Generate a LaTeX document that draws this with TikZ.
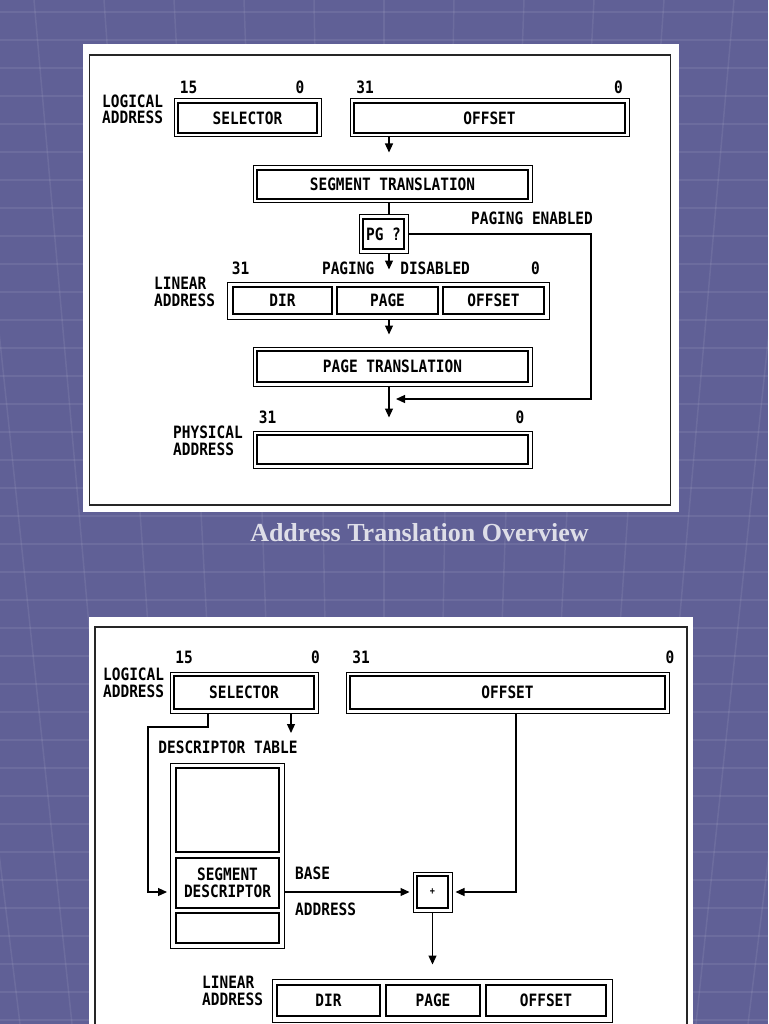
\documentclass[tikz,border=0pt]{standalone}
\usepackage{fontspec}
\usetikzlibrary{arrows.meta}

\newfontfamily\regfont{DejaVu Sans Mono}[FakeStretch=0.85]
\newfontfamily\titlefont{Liberation Serif}
\newcommand{\regtype}{\regfont\bfseries\fontsize{17}{16.5}\selectfont}
\definecolor{slide}{RGB}{96,96,150}
\definecolor{caption}{RGB}{222,222,232}

\begin{document}
\begin{tikzpicture}[x=1pt, y=-1pt,
	frame/.style={draw, line width=1pt, inner sep=0pt},
	reg/.style={frame, font=\regtype},
	cell/.style={draw, line width=2pt, inner sep=0pt, font=\regtype},
	lbl/.style={inner sep=0pt, font=\regtype},
	wire/.style={line width=1.2pt},
	ptr/.style={wire, -{Triangle[length=9pt, width=8pt]}},
	tile/.style={line width=1.5pt, white, opacity=0.08}]
	% Slide and panels
	\useasboundingbox (0,0) rectangle (768,1024);
	\fill[slide] (0,0) rectangle (768,1024);
	\foreach \y in {12,40,...,1024}
		\draw[tile] (0,\y) -- (768,\y);
	\foreach \k in {-7,...,7}
		\draw[tile] (384+\k*70,0) -- (384+\k*52,1024);
	\fill[white] (83,44) rectangle (679,512);
	\draw[line width=1.5pt, black!85] (89.5,55) rectangle (670.5,505);
	\fill[white] (89,617) rectangle (693,1030);
	\draw[line width=1.5pt, black!85] (95,1030) |- (687,627) -- (687,1030);
	\node[font=\titlefont\bfseries\fontsize{26}{30}\selectfont, text=caption] (title) at (419.5,533) {Address Translation Overview};

	% Top diagram: registers
	\node[reg, minimum width=147, minimum height=38] (sela) at (247.5,118) {SELECTOR};
	\node[reg, minimum width=279, minimum height=38] (offa) at (489.5,118) {OFFSET};
	\node[reg, minimum width=279, minimum height=37] (sega) at (392.5,184.5) {SEGMENT TRANSLATION};
	\node[reg, minimum width=49, minimum height=38] (pga) at (383.5,234) {PG ?};
	\node[frame, minimum width=322, minimum height=37] (lina) at (388,300.5) {};
	\node[cell, minimum width=99, minimum height=27] (dira) at (282.5,300.5) {DIR};
	\node[cell, minimum width=101, minimum height=27] (pagea) at (387.5,300.5) {PAGE};
	\node[cell, minimum width=101, minimum height=27] (offsa) at (493.5,300.5) {OFFSET};
	\node[reg, minimum width=279, minimum height=39] (pta) at (392.5,366.5) {PAGE TRANSLATION};
	\node[reg, minimum width=279, minimum height=37] (pha) at (392.5,449.5) {};

	% Top diagram: labels
	\node[lbl] (hi1) at (188.5,87) {15};
	\node[lbl] (lo1) at (300,87) {0};
	\node[lbl] (hi2) at (365,87) {31};
	\node[lbl] (lo2) at (618.5,87) {0};
	\node[lbl, align=left, anchor=west] (logla) at (102,109.5) {LOGICAL\\ADDRESS};
	\node[lbl] (pgon) at (532,218) {PAGING ENABLED};
	\node[lbl] (hi3) at (240.5,268) {31};
	\node[lbl] (pgoff) at (396,268) {PAGING~~~DISABLED};
	\node[lbl] (lo3) at (535.5,268) {0};
	\node[lbl, align=left, anchor=west] (linla) at (154,292) {LINEAR\\ADDRESS};
	\node[lbl] (hi4) at (267.5,417) {31};
	\node[lbl] (lo4) at (520,417) {0};
	\node[lbl, align=left, anchor=west] (phyla) at (173,441) {PHYSICAL\\ADDRESS};

	% Top diagram: flow
	\coordinate (axis) at (389,0);
	\coordinate (bypass) at (591,399);
	\coordinate (merge) at (389,399);
	\draw[ptr, shorten >=13pt] (offa.south -| axis) -- (sega.north -| axis);
	\draw[wire] (sega.south -| axis) -- (pga.north -| axis);
	\draw[ptr, shorten >=12pt] (pga.south -| axis) -- (lina.north -| axis);
	\draw[ptr, shorten >=12pt] (lina.south -| axis) -- (pta.north -| axis);
	\draw[ptr, shorten >=13pt] (pta.south -| axis) -- (pha.north -| axis);
	\draw[ptr, shorten >=7pt] (pga.east) -| (bypass) -- (merge);

	% Bottom diagram: registers and table
	\node[reg, minimum width=148, minimum height=41] (selb) at (244,692.5) {SELECTOR};
	\node[reg, minimum width=323, minimum height=41] (offb) at (507.5,692.5) {OFFSET};
	\node[frame, minimum width=114, minimum height=185] (dtab) at (227,855.5) {};
	\node[cell, minimum width=103, minimum height=84] (dtop) at (227.5,810) {};
	\node[cell, minimum width=103, minimum height=50, align=center] (sdesc) at (227.5,883) {SEGMENT\\DESCRIPTOR};
	\node[cell, minimum width=103, minimum height=30] (dbot) at (227.5,928) {};
	\node[reg, minimum width=39, minimum height=40, font=\regfont\bfseries\fontsize{10}{10}\selectfont] (plus) at (432.5,892) {+};
	\node[frame, minimum width=340, minimum height=43] (linb) at (442,1000.5) {};
	\node[cell, minimum width=103, minimum height=31] (dirb) at (328.5,1000.5) {DIR};
	\node[cell, minimum width=94, minimum height=31] (pageb) at (433,1000.5) {PAGE};
	\node[cell, minimum width=120, minimum height=31] (offsb) at (546,1000.5) {OFFSET};

	% Bottom diagram: labels
	\node[lbl] (hi5) at (184,657.5) {15};
	\node[lbl] (lo5) at (315.5,657.5) {0};
	\node[lbl] (hi6) at (361,657.5) {31};
	\node[lbl] (lo6) at (670,657.5) {0};
	\node[lbl, align=left, anchor=west] (loglb) at (103,683) {LOGICAL\\ADDRESS};
	\node[lbl] (dtl) at (228,747) {DESCRIPTOR TABLE};
	\node[lbl, anchor=west] (basel) at (295,873) {BASE};
	\node[lbl, anchor=west] (addrl) at (295,909.5) {ADDRESS};
	\node[lbl, align=left, anchor=west] (linlb) at (202,991) {LINEAR\\ADDRESS};

	% Bottom diagram: flow
	\coordinate (selbend) at (148,727);
	\coordinate (dtarrow) at (291,733);
	\draw[ptr, shorten >=8pt] ([xshift=-36pt]selb.south) |- (selbend) |- (sdesc.west |- plus);
	\draw[ptr] ([xshift=47pt]selb.south) -- (dtarrow);
	\draw[ptr, shorten >=3pt] (dtab.east |- plus) -- (plus.west);
	\draw[ptr, shorten >=3pt] ([xshift=8.5pt]offb.south) |- (plus.east);
	\draw[ptr, shorten >=14pt] (plus.south) -- (plus.south |- linb.north);

	% Inner rules of the double frames
	\foreach \r in {sela, offa, sega, pga, pta, pha, selb, offb, plus}
		\draw[line width=2pt] ([shift={(4.5pt,4.5pt)}]\r.south west) rectangle ([shift={(-4.5pt,-4.5pt)}]\r.north east);
\end{tikzpicture}
\end{document}
